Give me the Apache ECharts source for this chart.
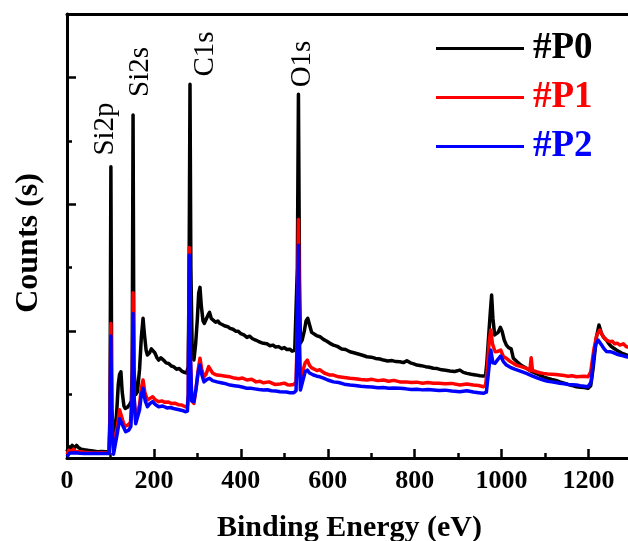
<!DOCTYPE html>
<html>
<head>
<meta charset="utf-8">
<title>XPS survey</title>
<script src="https://cdn.jsdelivr.net/npm/echarts@6/dist/echarts.min.js"></script>
<style>
  html, body { margin: 0; padding: 0; background: #fff; }
  #chart { width: 628px; height: 541px; }
</style>
</head>
<body>
<div id="chart"></div>
<script>
// binding energy (eV), counts (arbitrary units)
const seriesNames = ["#P0", "#P1", "#P2"];
const seriesColors = ["#000000", "#ff0000", "#0000ff"];
const xTicks = [0, 200, 400, 600, 800, 1000, 1200];

const p0 = [
  [0, 0.05], [4, 0.09], [8, 0.07], [12, 0.1], [17, 0.08], [22, 0.1], [27, 0.08], [32, 0.07],
  [40, 0.065], [50, 0.06], [60, 0.055], [70, 0.05], [80, 0.052], [90, 0.05], [97, 0.05],
  [99, 0.4], [101, 2.296], [103, 0.4], [107, 0.17], [111, 0.2], [115, 0.4], [118, 0.58],
  [121, 0.66], [124, 0.68], [127, 0.52], [131, 0.41], [134, 0.39], [139, 0.4], [144, 0.42],
  [148, 0.45], [150, 0.7], [152, 2.703], [154, 0.7], [158, 0.5], [162, 0.522], [167, 0.7],
  [171, 0.95], [175, 1.101], [178, 0.98], [182, 0.85], [185, 0.812], [190, 0.83], [194, 0.86],
  [198, 0.864], [202, 0.83], [207, 0.79], [211, 0.772], [216, 0.79], [222, 0.772], [228, 0.75],
  [234, 0.745], [240, 0.725], [245, 0.72], [252, 0.70], [258, 0.705], [264, 0.685], [270, 0.675],
  [275, 0.67], [279, 0.72], [281, 1.5], [283, 2.947], [285, 1.5], [288, 0.85], [292, 0.772],
  [296, 0.9], [300, 1.1], [303, 1.3], [306, 1.345], [309, 1.2], [313, 1.08], [316, 1.061],
  [321, 1.1], [325, 1.13], [328, 1.148], [332, 1.1], [337, 1.085], [342, 1.07], [347, 1.08],
  [352, 1.06], [358, 1.05], [364, 1.04], [370, 1.035], [375, 1.022], [382, 1.015], [388, 1.0],
  [394, 1.0], [400, 0.98], [407, 0.97], [414, 0.951], [420, 0.96], [427, 0.94], [434, 0.93],
  [440, 0.92], [447, 0.91], [452, 0.904], [460, 0.9], [467, 0.885], [474, 0.89], [480, 0.875],
  [487, 0.878], [494, 0.862], [500, 0.87], [506, 0.855], [513, 0.857], [518, 0.842], [524, 0.848],
  [528, 0.86], [530, 1.5], [532.5, 2.868], [535, 1.4], [537, 0.906], [541, 0.93], [546, 1.0],
  [550, 1.08], [554, 1.101], [558, 1.05], [563, 0.99], [567, 0.983], [574, 0.965], [582, 0.956],
  [590, 0.935], [598, 0.92], [605, 0.904], [613, 0.89], [622, 0.88], [632, 0.86], [641, 0.855],
  [651, 0.838], [660, 0.83], [670, 0.82], [680, 0.81], [690, 0.798], [700, 0.795], [710, 0.785],
  [720, 0.78], [728, 0.772], [738, 0.765], [748, 0.768], [757, 0.76], [766, 0.759], [774, 0.752],
  [782, 0.767], [790, 0.75], [798, 0.742], [805, 0.733], [815, 0.728], [825, 0.72], [834, 0.715],
  [843, 0.707], [852, 0.705], [862, 0.695], [871, 0.692], [881, 0.686], [892, 0.682], [904, 0.693],
  [912, 0.675], [920, 0.667], [930, 0.66], [940, 0.655], [950, 0.648], [958, 0.646], [963, 0.65],
  [966, 0.75], [970, 0.95], [974, 1.15], [977, 1.284], [980, 1.1], [984, 0.97], [987, 0.956],
  [992, 0.99], [997, 1.03], [1001, 1.0], [1006, 0.93], [1011, 0.89], [1016, 0.87], [1022, 0.86],
  [1027, 0.786], [1035, 0.76], [1045, 0.73], [1057, 0.707], [1070, 0.68], [1083, 0.66],
  [1096, 0.64], [1105, 0.63], [1115, 0.62], [1125, 0.612], [1134, 0.60], [1144, 0.59],
  [1153, 0.58], [1162, 0.572], [1172, 0.562], [1182, 0.558], [1190, 0.555], [1199, 0.549],
  [1205, 0.57], [1211, 0.72], [1218, 0.95], [1224, 1.048], [1230, 0.98], [1235, 0.95],
  [1241, 0.93], [1247, 0.9], [1252, 0.88], [1258, 0.865], [1264, 0.851], [1270, 0.84],
  [1275, 0.83], [1281, 0.82], [1287, 0.812], [1300, 0.8]
];

const p1 = [
  [0, 0.03], [4, 0.06], [10, 0.05], [15, 0.07], [20, 0.05], [30, 0.05], [40, 0.045], [60, 0.04],
  [80, 0.042], [97, 0.04], [99, 0.3], [101, 1.061], [103, 0.3], [107, 0.09], [111, 0.09],
  [116, 0.25], [121, 0.38], [124, 0.39], [128, 0.3], [133, 0.25], [140, 0.26], [146, 0.28],
  [150, 0.5], [152, 1.303], [154, 0.5], [158, 0.3], [162, 0.30], [167, 0.42], [171, 0.55],
  [175, 0.615], [179, 0.52], [185, 0.457], [191, 0.47], [197, 0.483], [203, 0.46], [211, 0.444],
  [218, 0.45], [224, 0.44], [232, 0.442], [240, 0.43], [248, 0.432], [256, 0.42], [264, 0.418],
  [272, 0.404], [277, 0.41], [279, 0.5], [281.5, 1.66], [284, 0.8], [287, 0.45], [292, 0.43],
  [297, 0.55], [302, 0.7], [306, 0.786], [310, 0.7], [315, 0.64], [320, 0.66], [326, 0.72],
  [330, 0.72], [335, 0.67], [340, 0.66], [345, 0.654], [355, 0.65], [365, 0.645], [375, 0.64],
  [385, 0.63], [395, 0.625], [404, 0.63], [414, 0.615], [425, 0.62], [435, 0.6], [444, 0.605],
  [452, 0.593], [465, 0.6], [478, 0.58], [490, 0.583], [500, 0.59], [507, 0.578], [513, 0.575],
  [522, 0.58], [527, 0.6], [530, 1.0], [532.5, 1.881], [535, 0.9], [537, 0.63], [542, 0.68],
  [548, 0.75], [553, 0.772], [558, 0.73], [563, 0.71], [567, 0.707], [575, 0.69], [582, 0.695],
  [592, 0.67], [605, 0.654], [613, 0.654], [625, 0.64], [638, 0.635], [651, 0.628], [663, 0.625],
  [676, 0.618], [690, 0.615], [702, 0.62], [715, 0.61], [728, 0.615], [740, 0.605], [752, 0.612],
  [766, 0.60], [780, 0.6], [792, 0.595], [805, 0.598], [818, 0.59], [830, 0.595], [843, 0.589],
  [856, 0.59], [870, 0.585], [885, 0.588], [904, 0.575], [920, 0.583], [935, 0.575], [947, 0.572],
  [958, 0.562], [963, 0.57], [967, 0.7], [971, 0.9], [975, 1.009], [979, 0.9], [985, 0.838],
  [991, 0.84], [998, 0.851], [1004, 0.8], [1011, 0.786], [1020, 0.76], [1035, 0.73], [1045, 0.72],
  [1057, 0.707], [1065, 0.69], [1068, 0.79], [1071, 0.69], [1080, 0.68], [1088, 0.672],
  [1096, 0.667], [1106, 0.662], [1115, 0.66], [1125, 0.658], [1134, 0.654], [1144, 0.65],
  [1153, 0.645], [1162, 0.648], [1172, 0.64], [1181, 0.643], [1190, 0.645], [1199, 0.64],
  [1205, 0.68], [1212, 0.85], [1219, 0.97], [1226, 1.009], [1233, 0.96], [1241, 0.93],
  [1250, 0.916], [1255, 0.92], [1260, 0.9], [1266, 0.905], [1272, 0.89], [1280, 0.9],
  [1287, 0.877], [1300, 0.87]
];

const p2 = [
  [0, 0.01], [3, 0.01], [6, 0.04], [12, 0.04], [20, 0.042], [30, 0.038], [40, 0.035], [60, 0.035],
  [80, 0.035], [97, 0.035], [99, 0.3], [101, 0.961], [103, 0.3], [107, 0.03], [111, 0.037],
  [116, 0.2], [121, 0.31], [125, 0.325], [129, 0.25], [135, 0.207], [142, 0.22], [147, 0.25],
  [150, 0.5], [152, 1.14], [154, 0.5], [158, 0.27], [162, 0.273], [167, 0.38], [171, 0.5],
  [175, 0.549], [180, 0.45], [185, 0.404], [191, 0.43], [197, 0.444], [204, 0.42], [211, 0.404],
  [220, 0.41], [230, 0.395], [238, 0.398], [245, 0.39], [258, 0.38], [265, 0.375], [272, 0.365],
  [277, 0.37], [279, 0.5], [281.5, 1.60], [284, 0.8], [287, 0.45], [292, 0.444], [297, 0.55],
  [302, 0.68], [306, 0.733], [310, 0.66], [315, 0.60], [322, 0.62], [328, 0.628], [335, 0.61],
  [345, 0.60], [352, 0.595], [360, 0.59], [368, 0.582], [375, 0.575], [385, 0.57], [395, 0.565],
  [405, 0.558], [414, 0.549], [423, 0.55], [432, 0.545], [442, 0.54], [452, 0.536], [461, 0.538],
  [470, 0.53], [480, 0.528], [490, 0.522], [505, 0.52], [513, 0.515], [522, 0.515], [527, 0.53],
  [530, 0.9], [532.5, 1.678], [535, 0.8], [537, 0.536], [542, 0.6], [548, 0.68], [553, 0.693],
  [558, 0.67], [567, 0.654], [575, 0.645], [582, 0.64], [590, 0.63], [600, 0.615], [613, 0.60],
  [625, 0.595], [638, 0.582], [651, 0.575], [663, 0.572], [676, 0.565], [690, 0.562], [702, 0.56],
  [715, 0.553], [728, 0.555], [740, 0.55], [752, 0.552], [766, 0.549], [780, 0.545], [792, 0.54],
  [805, 0.542], [818, 0.537], [830, 0.54], [843, 0.536], [856, 0.532], [870, 0.535], [885, 0.528],
  [904, 0.522], [920, 0.53], [935, 0.52], [947, 0.515], [958, 0.51], [965, 0.52], [969, 0.65],
  [975, 0.851], [980, 0.75], [985, 0.746], [992, 0.78], [998, 0.804], [1004, 0.76], [1011, 0.733],
  [1020, 0.715], [1030, 0.7], [1043, 0.685], [1057, 0.667], [1070, 0.648], [1083, 0.63],
  [1096, 0.615], [1106, 0.605], [1115, 0.6], [1125, 0.595], [1134, 0.589], [1144, 0.585],
  [1153, 0.58], [1162, 0.578], [1172, 0.575], [1181, 0.57], [1190, 0.566], [1199, 0.562],
  [1206, 0.6], [1212, 0.8], [1217, 0.9], [1222, 0.93], [1230, 0.89], [1236, 0.86], [1241, 0.84],
  [1250, 0.838], [1257, 0.83], [1264, 0.82], [1272, 0.812], [1280, 0.805], [1287, 0.798],
  [1300, 0.79]
];

const seriesData = [p0, p1, p2];

// peak labels: [text, x px, y px]
const peakLabels = [
  ["Si2p", 105, 129],
  ["Si2s", 140, 72],
  ["C1s", 205, 54],
  ["O1s", 302, 64]
];

const serif = '"Liberation Serif", "Times New Roman", serif';
const chart = echarts.init(document.getElementById("chart"), null, { renderer: "canvas" });

const axisLineStyle = { color: "#000", width: 3 };

chart.setOption({
  animation: false,
  backgroundColor: "#fff",
  grid: { left: 67, right: -4, top: 14, bottom: 83, containLabel: false, outerBoundsMode: "none" },
  legend: {
    orient: "vertical",
    left: 436,
    top: 30,
    itemWidth: 88,
    itemHeight: 3,
    itemGap: 12,
    icon: "rect",
    padding: 0,
    textStyle: {
      fontFamily: serif,
      fontSize: 37,
      fontWeight: "bold",
      lineHeight: 37,
      padding: [0, 0, 0, 4]
    },
    data: seriesNames.map((n, i) => ({ name: n, textStyle: { color: seriesColors[i] } }))
  },
  xAxis: [
    {
      type: "value",
      min: 0,
      max: 1300,
      interval: 200,
      name: "Binding Energy (eV)",
      nameLocation: "middle",
      nameGap: 55,
      nameTextStyle: { fontFamily: serif, fontSize: 30, fontWeight: "bold", color: "#000" },
      axisLine: { show: true, onZero: false, lineStyle: axisLineStyle },
      axisTick: { show: true, inside: true, length: 9, lineStyle: { color: "#000", width: 2.5 } },
      minorTick: { show: true, splitNumber: 2, length: 5, lineStyle: { color: "#000", width: 2.5 } },
      axisLabel: {
        show: true,
        margin: 10,
        fontFamily: serif,
        fontSize: 26,
        fontWeight: "bold",
        color: "#000",
        formatter: (v) => (xTicks.indexOf(v) >= 0 ? String(v) : "")
      },
      splitLine: { show: false }
    },
    {
      type: "value",
      position: "top",
      min: 0,
      max: 1300,
      axisLine: { show: true, onZero: false, lineStyle: axisLineStyle },
      axisTick: { show: false },
      axisLabel: { show: false },
      splitLine: { show: false }
    }
  ],
  yAxis: {
    type: "value",
    min: 0,
    max: 3.5,
    interval: 1,
    name: "Counts (s)",
    nameLocation: "middle",
    nameGap: 22,
    nameTextStyle: {
      fontFamily: serif,
      fontSize: 32,
      fontWeight: "bold",
      color: "#000",
      padding: [0, 14, 0, 0]
    },
    axisLine: { show: true, onZero: false, lineStyle: axisLineStyle },
    axisTick: { show: true, inside: true, length: 9, lineStyle: { color: "#000", width: 2.5 } },
    minorTick: { show: true, splitNumber: 2, length: 5, lineStyle: { color: "#000", width: 2.5 } },
    axisLabel: { show: false },
    splitLine: { show: false }
  },
  series: seriesNames.map((n, i) => ({
    name: n,
    type: "line",
    data: seriesData[i],
    showSymbol: false,
    symbol: "none",
    lineStyle: { color: seriesColors[i], width: 3.5, join: "round" },
    itemStyle: { color: seriesColors[i] },
    clip: true,
    z: 2 + i
  })),
  graphic: peakLabels.map((p) => ({
    type: "text",
    x: p[1],
    y: p[2],
    rotation: Math.PI / 2,
    style: {
      text: p[0],
      fontFamily: serif,
      fontSize: 29,
      fill: "#000",
      align: "center",
      verticalAlign: "middle"
    }
  }))
});
</script>
</body>
</html>
